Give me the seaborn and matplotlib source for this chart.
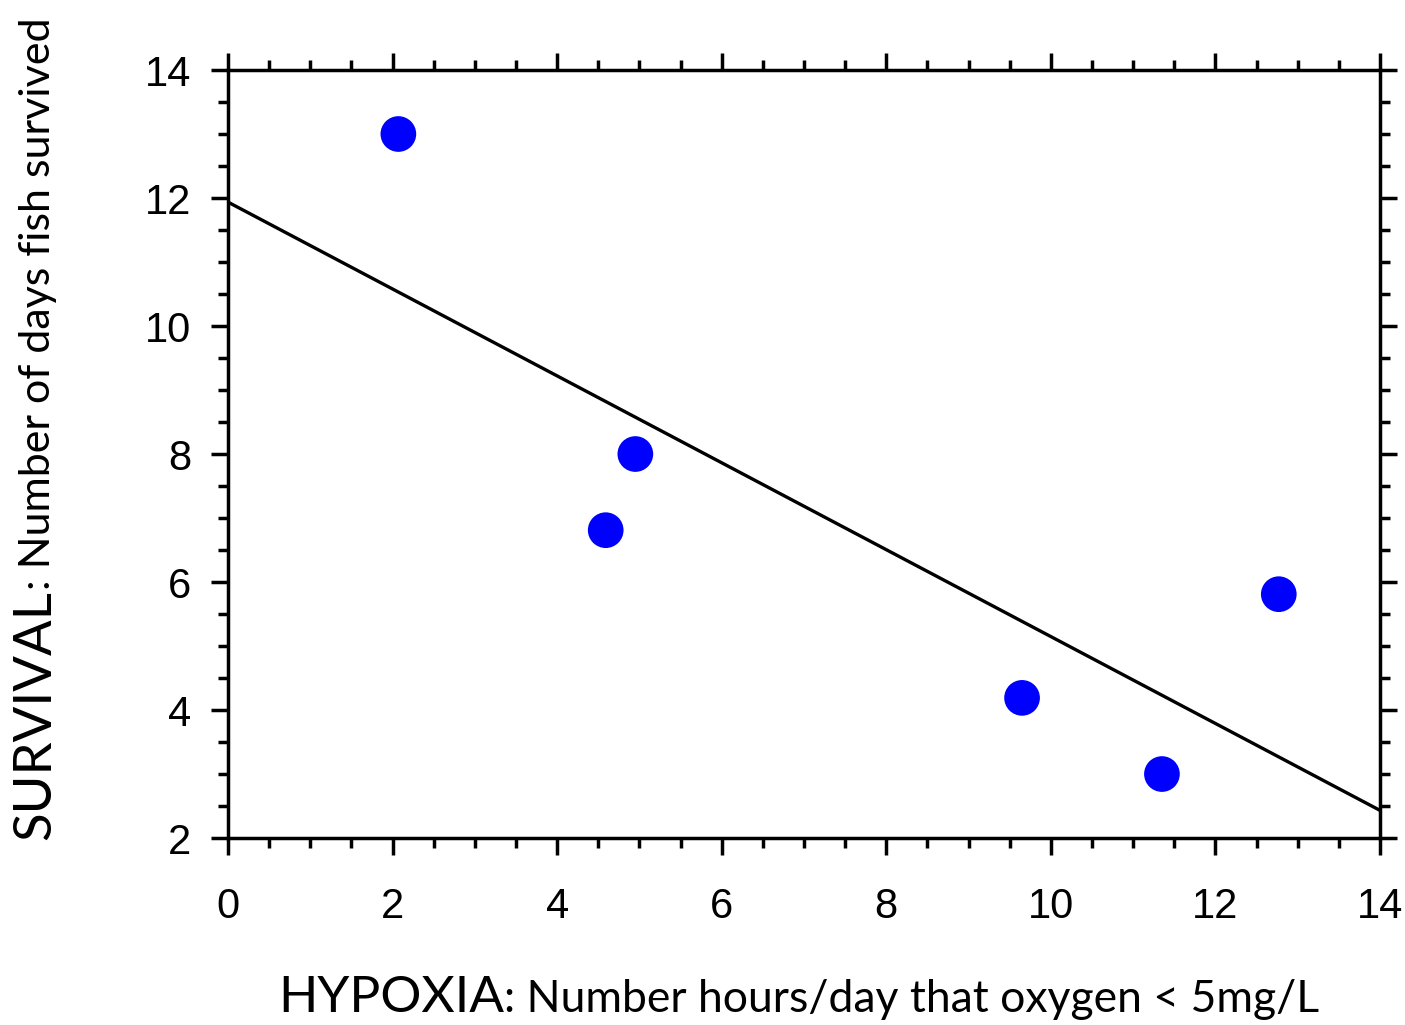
import numpy as np
import pandas as pd
import seaborn as sns
import matplotlib.pyplot as plt
from matplotlib.ticker import MultipleLocator

# values
hypoxia_hours = [2.07, 4.59, 4.95, 9.65, 11.35, 12.77]
survival_days = [13.0, 6.81, 8.0, 4.19, 3.0, 5.81]
x_ticks = [0, 2, 4, 6, 8, 10, 12, 14]
y_ticks = [2, 4, 6, 8, 10, 12, 14]

df = pd.DataFrame({'hypoxia': hypoxia_hours, 'survival': survival_days})

sns.set_style('ticks')
plt.rcParams['font.family'] = ['Liberation Sans', 'DejaVu Sans']
plt.rcParams['text.color'] = 'black'
plt.rcParams['xtick.color'] = 'black'
plt.rcParams['ytick.color'] = 'black'

fig = plt.figure(figsize=(14.05, 10.25), dpi=100)
ax = fig.add_axes([0.1623, 0.1824, 0.8199, 0.7493])
ax.set_xlim(0, 14)
ax.set_ylim(2, 14)

sns.regplot(data=df, x='hypoxia', y='survival', ax=ax, ci=None, truncate=False,
            scatter_kws=dict(s=660, color='#0000ff', alpha=1, edgecolor='none', zorder=3),
            line_kws=dict(color='black', lw=2.4, zorder=2))
ax.set_xlim(0, 14)
ax.set_ylim(2, 14)
ax.set_xlabel('')
ax.set_ylabel('')

ax.set_xticks(x_ticks)
ax.set_yticks(y_ticks)
ax.xaxis.set_minor_locator(MultipleLocator(0.5))
ax.yaxis.set_minor_locator(MultipleLocator(0.5))
for s in ax.spines.values():
    s.set_linewidth(2.5)
    s.set_color('black')
ax.tick_params(which='both', direction='out', top=True, right=True,
               width=2.5, color='black', labelcolor='black')
ax.tick_params(which='major', length=12.5, labelsize=30)
ax.tick_params(which='minor', length=7)
ax.tick_params(axis='x', which='major', pad=23)
ax.tick_params(axis='y', which='major', pad=14)

# axis titles with a large keyword and a smaller description
lab_font = ['Lato', 'DejaVu Sans']
fig.canvas.draw()
r = fig.canvas.get_renderer()

t1 = fig.text(278 / 1405, 1 - 1012 / 1025, 'HYPOXIA', fontsize=37,
              family=lab_font, ha='left', va='baseline', color='black')
ext = t1.get_window_extent(r)
fig.text(ext.x1 / fig.bbox.width, 1 - 1012 / 1025,
         ': Number hours/day that oxygen < 5mg/L', fontsize=32,
         family=lab_font, ha='left', va='baseline', color='black')

t2 = fig.text(50 / 1405, 1 - 840 / 1025, 'SURVIVAL', fontsize=38,
              family=lab_font, rotation=90, rotation_mode='anchor',
              ha='left', va='baseline', color='black')
ext = t2.get_window_extent(r)
fig.text(50 / 1405, ext.y1 / fig.bbox.height,
         ': Number of days fish survived', fontsize=31,
         family=lab_font, rotation=90, rotation_mode='anchor',
         ha='left', va='baseline', color='black')

fig.savefig('out.png', dpi=100)
